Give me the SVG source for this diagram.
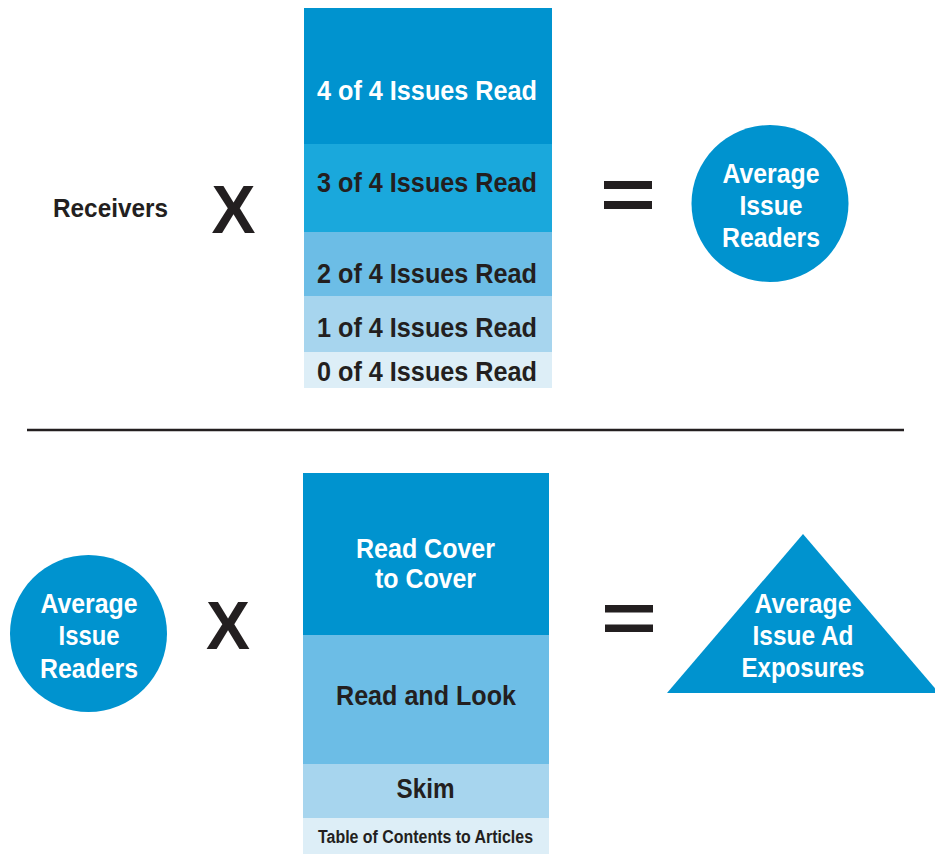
<svg xmlns="http://www.w3.org/2000/svg" width="935" height="854" viewBox="0 0 935 854">
<style>
.t{font-family:"Liberation Sans",Arial,sans-serif;font-weight:bold;text-anchor:middle}
.w{fill:#ffffff}
.d{fill:#231f20}
.op{font-family:"Liberation Sans",Arial,sans-serif;font-weight:bold;font-size:68px;fill:#231f20;text-anchor:middle}
.c1{fill:#0093cf}
.c2{fill:#1aa8dc}
.c3{fill:#6cbde6}
.c4{fill:#a7d5ee}
.c5{fill:#ddeef7}
</style>
<rect width="935" height="854" fill="#ffffff"/>

<g id="receivers"><text class="t d" x="110.5" y="217" font-size="26" textLength="115" lengthAdjust="spacingAndGlyphs">Receivers</text></g>
<g id="times-top"><text class="op" x="233.5" y="233" textLength="44" lengthAdjust="spacingAndGlyphs">X</text></g>

<g id="issues-read-stack">
<rect class="c1" x="304" y="8" width="248" height="136"/>
<rect class="c2" x="304" y="144" width="248" height="88"/>
<rect class="c3" x="304" y="232" width="248" height="64"/>
<rect class="c4" x="304" y="296" width="248" height="56"/>
<rect class="c5" x="304" y="352" width="248" height="36"/>
<text class="t w" x="427" y="100" font-size="28" textLength="220" lengthAdjust="spacingAndGlyphs">4 of 4 Issues Read</text>
<text class="t d" x="427" y="192" font-size="28" textLength="220" lengthAdjust="spacingAndGlyphs">3 of 4 Issues Read</text>
<text class="t d" x="427" y="283" font-size="28" textLength="220" lengthAdjust="spacingAndGlyphs">2 of 4 Issues Read</text>
<text class="t d" x="427" y="337" font-size="28" textLength="220" lengthAdjust="spacingAndGlyphs">1 of 4 Issues Read</text>
<text class="t d" x="427" y="381" font-size="28" textLength="220" lengthAdjust="spacingAndGlyphs">0 of 4 Issues Read</text>
</g>

<g id="equals-top">
<rect x="604" y="181" width="48" height="8" fill="#231f20"/>
<rect x="604" y="201" width="48" height="8" fill="#231f20"/>
</g>

<g id="avg-issue-readers-top">
<circle class="c1" cx="770" cy="203.5" r="78.5"/>
<text class="t w" x="771" y="183" font-size="27" textLength="97" lengthAdjust="spacingAndGlyphs">Average</text>
<text class="t w" x="771" y="215" font-size="27" textLength="63" lengthAdjust="spacingAndGlyphs">Issue</text>
<text class="t w" x="771" y="247" font-size="27" textLength="98" lengthAdjust="spacingAndGlyphs">Readers</text>
</g>

<g id="divider"><line x1="27" y1="430" x2="904" y2="430" stroke="#231f20" stroke-width="2.5"/></g>

<g id="avg-issue-readers-bottom">
<circle class="c1" cx="88.5" cy="633.5" r="78.5"/>
<text class="t w" x="89" y="613" font-size="27" textLength="97" lengthAdjust="spacingAndGlyphs">Average</text>
<text class="t w" x="89" y="645" font-size="27" textLength="61" lengthAdjust="spacingAndGlyphs">Issue</text>
<text class="t w" x="89" y="678" font-size="27" textLength="98" lengthAdjust="spacingAndGlyphs">Readers</text>
</g>

<g id="times-bottom"><text class="op" x="228" y="649" textLength="44" lengthAdjust="spacingAndGlyphs">X</text></g>

<g id="reading-stack">
<rect class="c1" x="303" y="473" width="246" height="162"/>
<rect class="c3" x="303" y="635" width="246" height="129"/>
<rect class="c4" x="303" y="764" width="246" height="54"/>
<rect class="c5" x="303" y="818" width="246" height="36"/>
<text class="t w" x="425.5" y="558" font-size="27" textLength="139" lengthAdjust="spacingAndGlyphs">Read Cover</text>
<text class="t w" x="425.5" y="588" font-size="27" textLength="101" lengthAdjust="spacingAndGlyphs">to Cover</text>
<text class="t d" x="426" y="705" font-size="28" textLength="180" lengthAdjust="spacingAndGlyphs">Read and Look</text>
<text class="t d" x="425.5" y="798" font-size="28" textLength="58" lengthAdjust="spacingAndGlyphs">Skim</text>
<text class="t d" x="425.5" y="843" font-size="18" textLength="215" lengthAdjust="spacingAndGlyphs">Table of Contents to Articles</text>
</g>

<g id="equals-bottom">
<rect x="605" y="605" width="48" height="7.5" fill="#231f20"/>
<rect x="605" y="624.5" width="48" height="7.5" fill="#231f20"/>
</g>

<g id="avg-issue-ad-exposures">
<polygon class="c1" points="803,534 667,693 939,693"/>
<text class="t w" x="803" y="613" font-size="27" textLength="97" lengthAdjust="spacingAndGlyphs">Average</text>
<text class="t w" x="803" y="645" font-size="27" textLength="101" lengthAdjust="spacingAndGlyphs">Issue Ad</text>
<text class="t w" x="803" y="677" font-size="27" textLength="123" lengthAdjust="spacingAndGlyphs">Exposures</text>
</g>
</svg>
